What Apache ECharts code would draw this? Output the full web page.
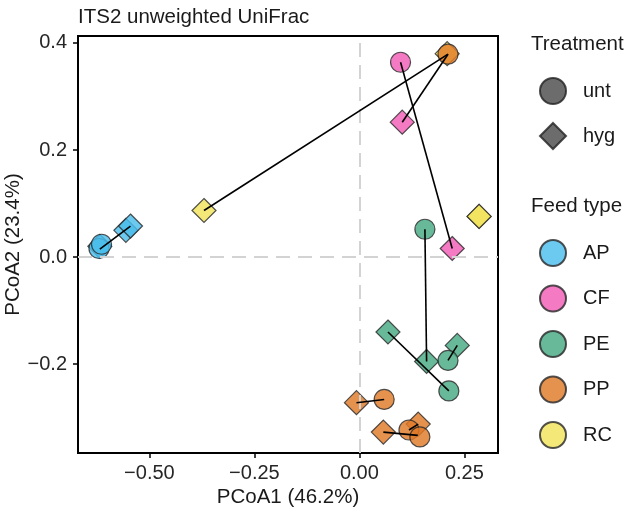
<!DOCTYPE html>
<html>
<head>
<meta charset="utf-8">
<script src="https://cdn.jsdelivr.net/npm/echarts@6/dist/echarts.min.js"></script>
<style>
  html, body { margin: 0; padding: 0; background: #fff; }
  #chart { width: 630px; height: 510px; }
</style>
</head>
<body>
<div id="chart"></div>
<script>
// PCoA coordinates [PCoA1, PCoA2]
const apUnt = [[-0.620, 0.016], [-0.614, 0.024]]
const apHyg = [[-0.618, 0.020], [-0.556, 0.050], [-0.545, 0.058]]
const cfUnt = [[0.098, 0.364]]
const cfHyg = [[0.102, 0.252], [0.221, 0.016]]
const peUnt = [[0.156, 0.052], [0.211, -0.193], [0.213, -0.250]]
const peHyg = [[0.068, -0.140], [0.160, -0.195], [0.233, -0.165]]
const ppUnt = [[0.059, -0.266], [0.118, -0.323], [0.144, -0.336], [0.211, 0.379]]
const ppHyg = [[-0.007, -0.272], [0.057, -0.327], [0.140, -0.312]]
const rcUnt = []
const rcHyg = [[-0.370, 0.087], [0.285, 0.076], [0.285, 0.076], [0.209, 0.380]]

// paired samples joined by a line
const pairs = [
  [[-0.618, 0.015], [-0.545, 0.058]],
  [[-0.370, 0.087], [0.211, 0.379]],
  [[0.102, 0.252], [0.211, 0.379]],
  [[0.098, 0.364], [0.221, 0.016]],
  [[0.156, 0.052], [0.160, -0.195]],
  [[0.068, -0.140], [0.213, -0.250]],
  [[0.233, -0.165], [0.211, -0.193]],
  [[-0.007, -0.272], [0.059, -0.266]],
  [[0.057, -0.327], [0.139, -0.333]],
  [[0.118, -0.323], [0.140, -0.312]]
]

const feedTypes = ['AP', 'CF', 'PE', 'PP', 'RC']
const treatments = ['unt', 'hyg']
const xTicks = [-0.5, -0.25, 0, 0.25]
const yTicks = [-0.2, 0, 0.2, 0.4]

const Colors = ['#4CBDEC', '#F25DB6', '#45AA84', '#E07A28', '#F1E35A']
const points = {
  AP: [apUnt, apHyg],
  CF: [cfUnt, cfHyg],
  PE: [peUnt, peHyg],
  PP: [ppUnt, ppHyg],
  RC: [rcUnt, rcHyg]
}

const FONT = 'Liberation Sans, Arial, sans-serif'
const minus = s => s.replace('-', '\u2212')

let series = []
feedTypes.forEach((name, i) => {
  const [unt, hyg] = points[name]
  series.push({
    name: name,
    type: 'scatter',
    z: name === 'PP' ? 4 : 3,
    itemStyle: {
      color: Colors[i],
      opacity: 0.82,
      borderColor: '#2b2b2b',
      borderWidth: 1.2
    },
    data: hyg.map(p => ({ value: p, symbol: 'diamond', symbolSize: [24, 24] }))
      .concat(unt.map(p => ({ value: p, symbol: 'circle', symbolSize: 20 })))
  })
})

// empty series only for the Treatment legend
treatments.forEach(name => {
  series.push({
    name: name,
    type: 'scatter',
    data: [],
    itemStyle: { color: '#474747', borderColor: '#222', borderWidth: 1.2 }
  })
})

series.push({
  type: 'lines',
  coordinateSystem: 'cartesian2d',
  z: 6,
  silent: true,
  lineStyle: { color: '#000', width: 1.6, opacity: 1 },
  data: pairs.map(p => ({ coords: p }))
})

// dashed zero lines
series.push({
  type: 'scatter',
  data: [],
  z: 1,
  markLine: {
    silent: true,
    symbol: 'none',
    label: { show: false },
    lineStyle: { color: '#d3d3d3', width: 2, type: [14, 8] },
    data: [{ xAxis: 0 }, { yAxis: 0 }]
  }
})

const legendText = { fontFamily: FONT, fontSize: 20, color: '#1a1a1a', padding: [0, 0, 0, 12] }

const chart = echarts.init(document.getElementById('chart'))
chart.setOption({
  animation: false,
  title: {
    text: 'ITS2 unweighted UniFrac',
    left: 73,
    top: 2,
    textStyle: { fontFamily: FONT, fontSize: 20.5, fontWeight: 'normal', color: '#1a1a1a' }
  },
  grid: {
    left: 78,
    right: 132,
    top: 36,
    bottom: 57,
    outerBoundsMode: 'none',
    show: true,
    borderColor: '#000',
    borderWidth: 2,
    backgroundColor: '#fff'
  },
  legend: [
    {
      data: [{ name: 'unt', icon: 'circle' }, { name: 'hyg', icon: 'diamond' }],
      orient: 'vertical',
      left: 539,
      top: 77,
      padding: 0,
      itemWidth: 26,
      itemHeight: 26,
      itemGap: 17,
      selectedMode: false,
      textStyle: legendText
    },
    {
      data: feedTypes.map(n => ({ name: n, icon: 'circle' })),
      orient: 'vertical',
      left: 539,
      top: 239,
      padding: 0,
      itemWidth: 26,
      itemHeight: 26,
      itemGap: 17.5,
      selectedMode: false,
      textStyle: legendText
    }
  ],
  graphic: [
    {
      type: 'text',
      left: 531,
      top: 34,
      style: { text: 'Treatment', font: '20.5px ' + FONT, fill: '#1a1a1a' }
    },
    {
      type: 'text',
      left: 531,
      top: 196,
      style: { text: 'Feed type', font: '20.5px ' + FONT, fill: '#1a1a1a' }
    }
  ],
  xAxis: {
    type: 'value',
    min: -0.670,
    max: 0.330,
    name: 'PCoA1 (46.2%)',
    nameLocation: 'middle',
    nameGap: 34,
    nameMoveOverlap: false,
    nameTextStyle: { fontFamily: FONT, fontSize: 20.5, color: '#1a1a1a' },
    axisLine: { onZero: false, lineStyle: { color: '#000', width: 2 } },
    axisTick: { show: true, length: 5, customValues: xTicks, lineStyle: { color: '#000', width: 1.5 } },
    axisLabel: {
      customValues: xTicks,
      margin: 10,
      fontFamily: FONT,
      fontSize: 20,
      color: '#262626',
      formatter: v => minus(v.toFixed(2))
    },
    splitLine: { show: false }
  },
  yAxis: {
    type: 'value',
    min: -0.366,
    max: 0.413,
    name: 'PCoA2 (23.4%)',
    nameLocation: 'middle',
    nameGap: 54,
    nameMoveOverlap: false,
    nameTextStyle: { fontFamily: FONT, fontSize: 20.5, color: '#1a1a1a' },
    axisLine: { onZero: false, lineStyle: { color: '#000', width: 2 } },
    axisTick: { show: true, length: 5, customValues: yTicks, lineStyle: { color: '#000', width: 1.5 } },
    axisLabel: {
      customValues: yTicks,
      margin: 11,
      fontFamily: FONT,
      fontSize: 20,
      color: '#262626',
      formatter: v => minus(v.toFixed(1))
    },
    splitLine: { show: false }
  },
  series: series
})
</script>
</body>
</html>
